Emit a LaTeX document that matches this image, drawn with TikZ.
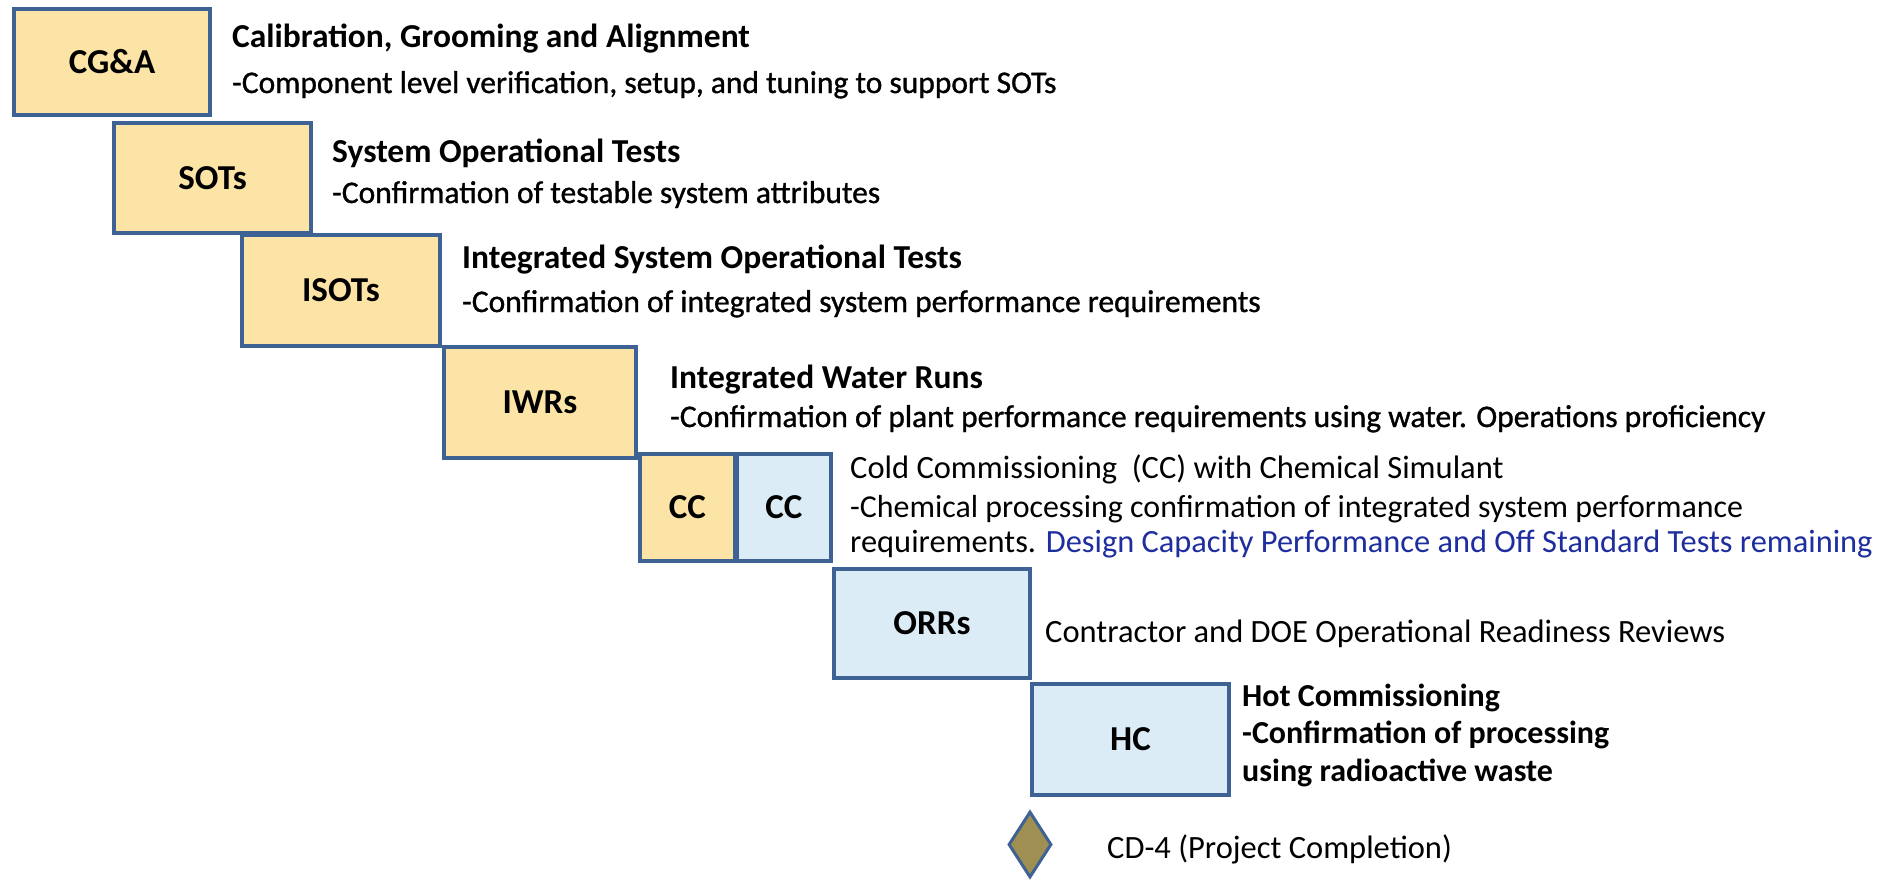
\documentclass[tikz,border=0pt]{standalone}
\usepackage{fontspec}
\setmainfont{Carlito}
\newfontfamily\medfont[FakeBold=1]{Carlito}
\usetikzlibrary{shapes.geometric}
\definecolor{edgeblue}{HTML}{3D6293}
\definecolor{goldfill}{HTML}{FBE4A6}
\definecolor{skyfill}{HTML}{DCECF6}
\definecolor{olivefill}{HTML}{A08F52}
\definecolor{navytext}{HTML}{1E2E9E}
\begin{document}
\begin{tikzpicture}[x=1pt,y=-1pt,
  stagebox/.style={draw=edgeblue,line width=4pt,inner sep=0pt,font=\fontsize{35}{40}\selectfont\bfseries},
  yellowbox/.style={stagebox,fill=goldfill},
  bluebox/.style={stagebox,fill=skyfill},
  title/.style={anchor=base west,inner sep=0pt,font=\fontsize{33.5}{38}\selectfont\bfseries},
  subdesc/.style={anchor=base west,inner sep=0pt,font=\fontsize{31.5}{36}\medfont},
  desc/.style={anchor=base west,inner sep=0pt,font=\fontsize{32.5}{37}\selectfont},
  hcline/.style={anchor=base west,inner sep=0pt,font=\fontsize{32}{37}\selectfont\bfseries},
  milestone/.style={diamond,draw=edgeblue,line width=3pt,fill=olivefill,inner sep=0pt,minimum width=43pt,minimum height=66pt}
]
\useasboundingbox (0,0) rectangle (1883,879);
\fill[white] (0,0) rectangle (1883,879);

% stage boxes
\node[yellowbox,minimum width=196pt,minimum height=106pt] (cga) at (112,62) {CG\&A};
\node[yellowbox,minimum width=197pt,minimum height=110pt] (sots) at (212.5,178) {SOTs};
\node[yellowbox,minimum width=198pt,minimum height=111pt] (isots) at (341,290.5) {ISOTs};
\node[yellowbox,minimum width=192pt,minimum height=111pt] (iwrs) at (540,402.5) {IWRs};
\node[yellowbox,minimum width=95pt,minimum height=107pt] (ccy) at (687.5,507.5) {CC};
\node[bluebox,minimum width=94pt,minimum height=107pt] (ccb) at (784,507.5) {CC};
\node[bluebox,minimum width=196pt,minimum height=109pt] (orrs) at (932,623.5) {ORRs};
\node[bluebox,minimum width=197pt,minimum height=111pt] (hc) at (1130.5,739.5) {HC};
\node[milestone] (cd4) at (1030,844.5) {};

% descriptions
\node[title] (t1) at (232,47) {Calibration, Grooming and Alignment};
\node[subdesc] (d1) at (232,93) {-Component level verification, setup, and tuning to support SOTs};
\node[title] (t2) at (332,162) {System Operational Tests};
\node[subdesc] (d2) at (332,203) {-Confirmation of testable system attributes};
\node[title] (t3) at (462,268) {Integrated System Operational Tests};
\node[subdesc] (d3) at (462,312) {-Confirmation of integrated system performance requirements};
\node[title] (t4) at (670,388) {Integrated Water Runs};
\node[subdesc] (d4) at (670,427) {-Confirmation of plant performance requirements using water. Operations proficiency};
\node[desc] (t5) at (850,478) {Cold Commissioning\ \ (CC) with Chemical Simulant};
\node[desc,font=\fontsize{31.9}{37}\selectfont] (d5) at (850,517) {-Chemical processing confirmation of integrated system performance};
\node[desc,font=\fontsize{32.4}{37}\selectfont] (d5b) at (850,552) {requirements. \textcolor{navytext}{Design Capacity Performance and Off Standard Tests remaining}};
\node[desc] (t6) at (1045,642) {Contractor and DOE Operational Readiness Reviews};
\node[hcline] (t7) at (1242,706) {Hot Commissioning};
\node[hcline] (d7) at (1242,743) {-Confirmation of processing};
\node[hcline] (d7b) at (1242,781) {using radioactive waste};
\node[desc] (t8) at (1107,858) {CD-4 (Project Completion)};
\end{tikzpicture}
\end{document}
